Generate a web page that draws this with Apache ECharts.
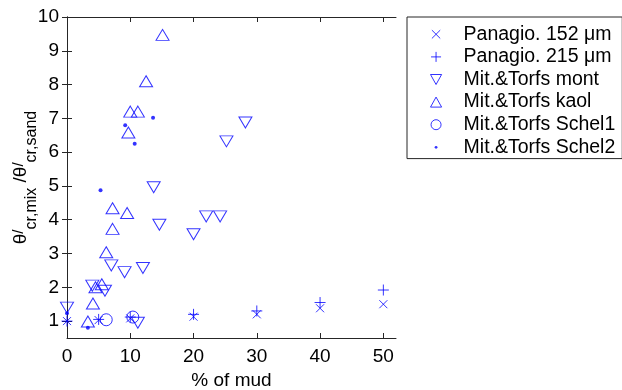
<!DOCTYPE html>
<html>
<head>
<meta charset="utf-8">
<script src="https://cdn.jsdelivr.net/npm/echarts@6/dist/echarts.min.js"></script>
<style>
  html, body { margin: 0; padding: 0; background: #fff; }
  #chart { width: 622px; height: 390px; }
</style>
</head>
<body>
<div id="chart"></div>
<script>
// ticks
var xTicks = [0, 10, 20, 30, 40, 50];
var yTicks = [1, 2, 3, 4, 5, 6, 7, 8, 9, 10];

// Panagio. 152 um
var p152X = [0, 5, 10, 20, 30, 40, 50];
var p152Y = [1.0, 1.03, 1.08, 1.13, 1.2, 1.38, 1.5];
// Panagio. 215 um
var p215X = [0, 5, 10, 20, 30, 40, 50];
var p215Y = [1.0, 1.05, 1.12, 1.2, 1.3, 1.55, 1.92];
// Mit.&Torfs mont
var montX = [0, 4.0, 6.0, 7.0, 9.1, 12.0, 11.2, 14.6, 13.7, 20.0, 22.0, 24.2, 25.2, 28.2];
var montY = [1.4, 2.05, 1.9, 2.65, 2.45, 2.57, 0.95, 3.85, 4.96, 3.57, 4.1, 4.1, 6.32, 6.88];
// Mit.&Torfs kaol
var kaolX = [3.3, 4.1, 4.5, 5.5, 6.2, 7.2, 7.2, 9.5, 9.7, 10.0, 11.2, 12.5, 15.1];
var kaolY = [0.99, 1.52, 2.0, 2.09, 3.04, 3.73, 4.34, 4.2, 6.58, 7.2, 7.2, 8.1, 9.47];
// Mit.&Torfs Schel1
var schel1X = [6.2, 10.4];
var schel1Y = [1.04, 1.12];
// Mit.&Torfs Schel2
var schel2X = [0, 3.3, 5.3, 9.2, 10.7, 13.6];
var schel2Y = [1.23, 0.8, 4.87, 6.8, 6.25, 7.02];

var names = ["Panagio. 152 μm", "Panagio. 215 μm", "Mit.&Torfs mont",
  "Mit.&Torfs kaol", "Mit.&Torfs Schel1", "Mit.&Torfs Schel2"];

var blue = "#0000ff";
var font = "Liberation Sans";
var xPath = "path://M0,0L10,10M10,0L0,10";
var plusPath = "path://M5,0L5,10M0,5L10,5";
var downTri = "path://M0,0L10,0L5,9Z";
var upTri = "path://M5,0L10,9L0,9Z";

function zip(xs, ys) {
  return xs.map(function (x, i) { return [x, ys[i]]; });
}

var outline = { color: "none", borderColor: blue, borderWidth: 1 };

var myChart = echarts.init(document.getElementById("chart"));
myChart.setOption({
  animation: false,
  grid: { left: 67, top: 17, width: 329, height: 321, outerBoundsMode: "none" },
  legend: {
    orient: "vertical",
    left: 407,
    top: 17,
    padding: [6, 7, 0, 21],
    itemWidth: 45,
    itemHeight: 10,
    itemGap: 0,
    borderColor: "#262626",
    borderWidth: 1,
    itemStyle: { borderWidth: 1 },
    textStyle: { fontFamily: font, fontSize: 19.5, color: "#000", lineHeight: 22.6 },
    data: [
      { name: names[0], icon: "path://M-1,-1M11,11M0,0L10,10M10,0L0,10" },
      { name: names[1], icon: plusPath },
      { name: names[2], icon: downTri },
      { name: names[3], icon: upTri },
      { name: names[4], icon: "circle" },
      { name: names[5], icon: "path://M0,0M10,10M5,3.6A1.4,1.4,0,1,1,5,6.4A1.4,1.4,0,1,1,5,3.6Z" }
    ]
  },
  xAxis: [
    {
      type: "value",
      min: 0,
      max: 52,
      position: "bottom",
      name: "% of mud",
      nameLocation: "middle",
      nameGap: 33,
      nameTextStyle: { fontFamily: font, fontSize: 19, color: "#000" },
      axisLine: { show: true, lineStyle: { color: "#262626" } },
      axisTick: { inside: true, length: 5, customValues: xTicks, lineStyle: { color: "#262626" } },
      axisLabel: { customValues: xTicks, margin: 9, fontFamily: font, fontSize: 19, color: "#000" },
      splitLine: { show: false }
    },
    {
      type: "value",
      min: 0,
      max: 52,
      position: "top",
      axisLine: { show: true, lineStyle: { color: "#262626" } },
      axisTick: { inside: true, length: 5, customValues: xTicks, lineStyle: { color: "#262626" } },
      axisLabel: { show: false },
      splitLine: { show: false }
    }
  ],
  yAxis: [
    {
      type: "value",
      min: 0.5,
      max: 10,
      position: "left",
      name: "{t|θ}{p|/}{s|cr,mix}{t| /}{t|θ}{p|/}{s|cr,sand}",
      nameLocation: "middle",
      nameRotate: 90,
      nameGap: 32,
      nameMoveOverlap: false,
      nameTextStyle: {
        fontFamily: font,
        color: "#000",
        rich: {
          t: { fontFamily: font, fontSize: 19, lineHeight: 19, padding: [0, 0, 10, 0], color: "#000" },
          p: { fontFamily: font, fontSize: 15, lineHeight: 15, padding: [0, 0, 14, 0], color: "#000" },
          s: { fontFamily: font, fontSize: 16, lineHeight: 16, padding: [13, 0, 0, 0], color: "#000" }
        }
      },
      axisLine: { show: true, lineStyle: { color: "#262626" } },
      axisTick: { inside: true, length: 5, customValues: yTicks, lineStyle: { color: "#262626" } },
      axisLabel: { customValues: yTicks, margin: 8, fontFamily: font, fontSize: 19, color: "#000" },
      splitLine: { show: false }
    },
    {
      type: "value",
      min: 0.5,
      max: 10,
      position: "right",
      axisLine: { show: true, lineStyle: { color: "#262626" } },
      axisTick: { inside: true, length: 5, customValues: yTicks, lineStyle: { color: "#262626" } },
      axisLabel: { show: false },
      splitLine: { show: false }
    }
  ],
  series: [
    {
      name: names[0], type: "scatter", symbol: xPath, symbolSize: 8,
      itemStyle: outline, data: zip(p152X, p152Y)
    },
    {
      name: names[1], type: "scatter", symbol: plusPath, symbolSize: 11,
      itemStyle: outline, data: zip(p215X, p215Y)
    },
    {
      name: names[2], type: "scatter", symbol: downTri, symbolSize: [13, 11],
      itemStyle: outline, data: zip(montX, montY)
    },
    {
      name: names[3], type: "scatter", symbol: upTri, symbolSize: [13, 11],
      itemStyle: outline, data: zip(kaolX, kaolY)
    },
    {
      name: names[4], type: "scatter", symbol: "circle", symbolSize: 12,
      itemStyle: outline, data: zip(schel1X, schel1Y)
    },
    {
      name: names[5], type: "scatter", symbol: "circle", symbolSize: 4,
      itemStyle: { color: blue }, data: zip(schel2X, schel2Y)
    }
  ]
});
</script>
</body>
</html>
